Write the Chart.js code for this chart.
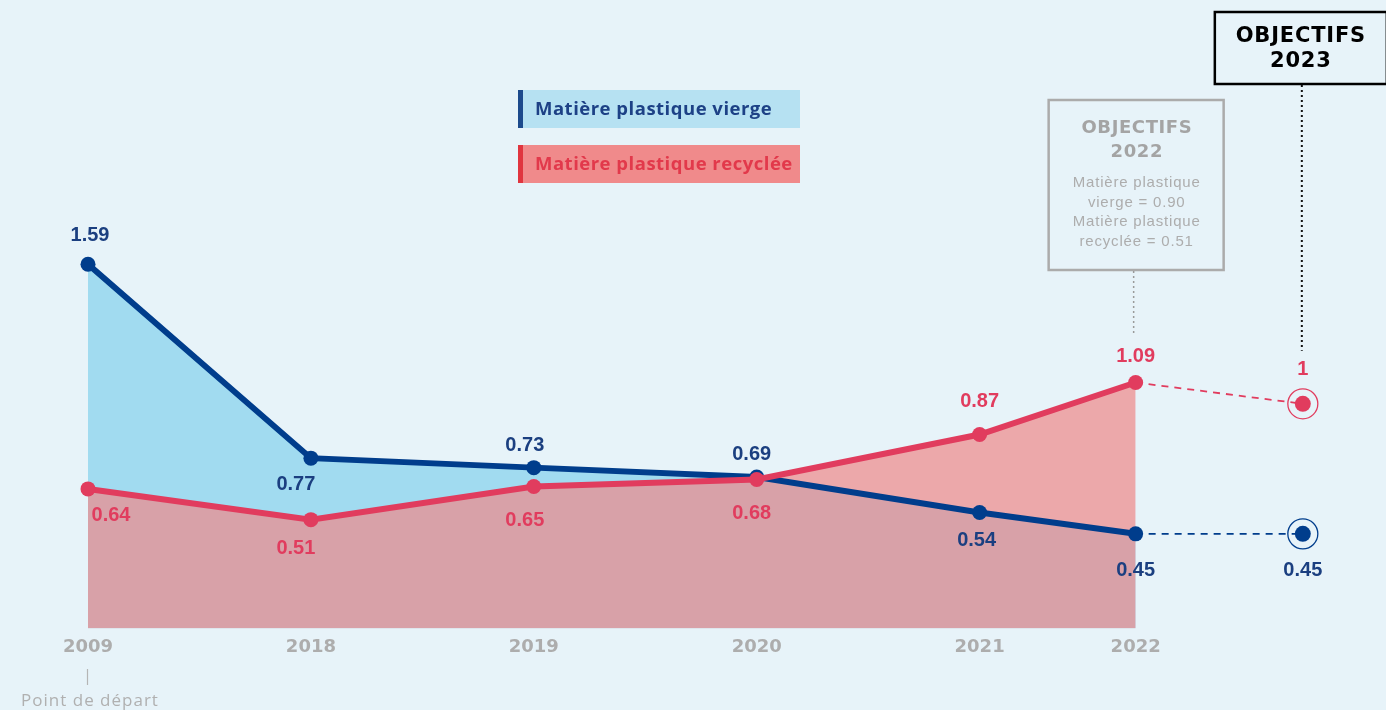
<!DOCTYPE html>
<html>
<head>
<meta charset="utf-8">
<script src="https://cdn.jsdelivr.net/npm/chart.js@4.4.1/dist/chart.umd.min.js"></script>
<style>
  html, body { margin: 0; padding: 0; background: #e7f3f9; }
  #wrap { width: 1386px; height: 710px; position: relative; }
  canvas { display: block; }
</style>
</head>
<body>
<div id="wrap"><canvas id="c" width="1386" height="710"></canvas></div>
<script>
// ---------- DATA ----------
const years = ['2009', '2018', '2019', '2020', '2021', '2022'];
const virgin = [1.59, 0.77, 0.73, 0.69, 0.54, 0.45];
const recycled = [0.64, 0.51, 0.65, 0.68, 0.87, 1.09];
const targetVirgin2023 = 0.45;
const targetRecycled2023 = 1;
const goal2022Virgin = 0.90;
const goal2022Recycled = 0.51;
const seriesNames = ['Matière plastique vierge', 'Matière plastique recyclée'];
const startNote = 'Point de départ';
const goalTitle = 'OBJECTIFS';
const goalYears = ['2022', '2023'];

// ---------- LAYOUT / STYLE ----------
const slots = [0, 1, 2, 3, 4, 4.7];   // horizontal slot of each year on the axis
const targetSlot = 5.45;
const BLUE = '#003d8c', RED = '#e13c5e';
const BLUE_TXT = '#1b3f80', RED_TXT = '#e13c5e';
const GREY = '#ababab';
const virginDx = [2, -15, -9, -5, -3, 0], virginDy = [-29, 26, -22, -23, 28, 37];
const recycledDx = [23, -15, -9, -5, 0, 0], recycledDy = [27, 29, 34, 34, -33, -26];
const VALUE_FONT = 'bold 20px "Liberation Sans", Arial, sans-serif';

const pts = (vals) => vals.map((v, i) => ({ x: slots[i], y: v }));
const fmt = (v) => String(v);

const labelsPlugin = {
  id: 'valueLabels',
  afterDatasetsDraw(chart) {
    const ctx = chart.ctx;
    ctx.save();
    ctx.font = VALUE_FONT;
    ctx.textAlign = 'center';
    ctx.textBaseline = 'middle';
    const put = (ds, idx, text, dx, dy, color) => {
      const el = chart.getDatasetMeta(ds).data[idx];
      ctx.fillStyle = color;
      ctx.fillText(text, el.x + dx, el.y + dy);
    };
    recycled.forEach((v, i) => put(0, i, fmt(v), recycledDx[i], recycledDy[i], RED_TXT));
    virgin.forEach((v, i) => put(1, i, fmt(v), virginDx[i], virginDy[i], BLUE_TXT));
    put(2, 1, fmt(targetRecycled2023), 0, -34, RED_TXT);
    put(3, 1, fmt(targetVirgin2023), 0, 37, BLUE_TXT);
    ctx.restore();
  }
};

const decoPlugin = {
  id: 'deco',
  afterDraw(chart) {
    const ctx = chart.ctx;
    const xs = chart.scales.x;
    ctx.save();

    // Legend boxes
    const lx = 518, lw = 282, lh = 38;
    const rows = [
      { y: 90, bg: '#b6e1f2', bar: '#1c4a8c', txt: '#1d4186', label: seriesNames[0] },
      { y: 145, bg: '#f08a8b', bar: '#e0353f', txt: '#e2394b', label: seriesNames[1] }
    ];
    rows.forEach(r => {
      ctx.fillStyle = r.bg;
      ctx.fillRect(lx, r.y, lw, lh);
      ctx.fillStyle = r.bar;
      ctx.fillRect(lx, r.y, 5, lh);
      ctx.fillStyle = r.txt;
      ctx.font = 'bold 18.5px "Open Sans", sans-serif';
      ctx.letterSpacing = '0.5px';
      ctx.textAlign = 'left';
      ctx.textBaseline = 'middle';
      ctx.fillText(r.label, 535, r.y + lh / 2 + 1);
      ctx.letterSpacing = '0px';
    });

    // Goal 2022 box
    const x22 = xs.getPixelForValue(slots[5]);
    const b22 = { x: x22 - 87, y: 100, w: 175, h: 170 };
    ctx.strokeStyle = GREY;
    ctx.lineWidth = 2.5;
    ctx.strokeRect(b22.x, b22.y, b22.w, b22.h);
    ctx.fillStyle = '#a4a4a4';
    ctx.textAlign = 'center';
    ctx.textBaseline = 'middle';
    ctx.font = 'bold 18px "DejaVu Sans", sans-serif';
    ctx.letterSpacing = '0.6px';
    ctx.fillText(goalTitle, x22 + 1.2, 128);
    ctx.fillText(goalYears[0], x22 + 1.2, 152);
    ctx.letterSpacing = '0.8px';
    ctx.font = '15px "Liberation Sans", Arial, sans-serif';
    ctx.fillStyle = '#adadad';
    const gl = ['Matière plastique', 'vierge = ' + goal2022Virgin.toFixed(2), 'Matière plastique', 'recyclée = ' + goal2022Recycled.toFixed(2)];
    gl.forEach((t, i) => ctx.fillText(t, x22 + 1, 183 + i * 19.5));
    ctx.letterSpacing = '0px';

    // dotted connector 2022
    const p22 = chart.getDatasetMeta(0).data[5];
    ctx.strokeStyle = '#9a9a9a';
    ctx.lineWidth = 1.5;
    ctx.setLineDash([2, 3]);
    ctx.beginPath();
    ctx.moveTo(x22 - 2, b22.y + b22.h + 1);
    ctx.lineTo(x22 - 2, p22.y + recycledDy[5] - 22);
    ctx.stroke();

    // Goal 2023 box
    const x23 = xs.getPixelForValue(targetSlot);
    const t23 = chart.getDatasetMeta(2).data[1];
    ctx.setLineDash([2, 3]);
    ctx.strokeStyle = '#111';
    ctx.lineWidth = 2;
    ctx.beginPath();
    ctx.moveTo(x23 - 1, 85);
    ctx.lineTo(x23 - 1, t23.y - 34 - 19);
    ctx.stroke();
    ctx.setLineDash([]);
    ctx.strokeStyle = '#000';
    ctx.lineWidth = 2.5;
    ctx.strokeRect(x23 - 88, 12, 172, 72);
    ctx.fillStyle = '#000';
    ctx.font = 'bold 21px "DejaVu Sans", sans-serif';
    ctx.letterSpacing = '0.8px';
    ctx.fillText(goalTitle, x23 - 2, 37);
    ctx.fillText(goalYears[1], x23 - 2, 62);
    ctx.letterSpacing = '0px';

    // Start note under the first year
    const x09 = xs.getPixelForValue(slots[0]);
    ctx.strokeStyle = '#b5b5b5';
    ctx.lineWidth = 1.2;
    ctx.beginPath();
    ctx.moveTo(x09 - 0.5, 669);
    ctx.lineTo(x09 - 0.5, 685);
    ctx.stroke();
    ctx.fillStyle = '#b0b0b0';
    ctx.font = '17px "Open Sans", sans-serif';
    ctx.letterSpacing = '1px';
    ctx.fillText(startNote, x09 + 2, 701);
    ctx.letterSpacing = '0px';

    ctx.restore();
  }
};

new Chart(document.getElementById('c'), {
  type: 'line',
  data: {
    datasets: [
      {
        label: seriesNames[1],
        data: pts(recycled),
        borderColor: RED, borderWidth: 6,
        pointRadius: 7.5, pointBackgroundColor: RED, pointBorderWidth: 0, pointHoverRadius: 7.5,
        backgroundColor: 'rgba(238,137,138,0.71)',
        fill: 'start', tension: 0, clip: false
      },
      {
        label: seriesNames[0],
        data: pts(virgin),
        borderColor: BLUE, borderWidth: 6,
        pointRadius: 7.5, pointBackgroundColor: BLUE, pointBorderWidth: 0, pointHoverRadius: 7.5,
        backgroundColor: '#a1dbf0',
        fill: 'start', tension: 0, clip: false
      },
      {
        label: 'target-r',
        data: [{ x: slots[5], y: recycled[5] }, { x: targetSlot, y: targetRecycled2023 }],
        borderColor: RED, borderWidth: 1.8, borderDash: [7, 6],
        pointRadius: [0, 8], pointBackgroundColor: RED, pointBorderWidth: 0,
        fill: false, clip: false
      },
      {
        label: 'target-v',
        data: [{ x: slots[5], y: virgin[5] }, { x: targetSlot, y: targetVirgin2023 }],
        borderColor: BLUE, borderWidth: 1.8, borderDash: [7, 6],
        pointRadius: [0, 8], pointBackgroundColor: BLUE, pointBorderWidth: 0,
        fill: false, clip: false
      },
      {
        label: 'ring-r',
        data: [{ x: targetSlot, y: targetRecycled2023 }],
        showLine: false, pointRadius: 15, pointBorderColor: RED, pointBorderWidth: 1.3,
        pointBackgroundColor: 'rgba(0,0,0,0)', fill: false, clip: false
      },
      {
        label: 'ring-v',
        data: [{ x: targetSlot, y: targetVirgin2023 }],
        showLine: false, pointRadius: 15, pointBorderColor: BLUE, pointBorderWidth: 1.3,
        pointBackgroundColor: 'rgba(0,0,0,0)', fill: false, clip: false
      }
    ]
  },
  options: {
    responsive: false,
    animation: false,
    events: [],
    layout: { padding: { left: 88, right: 8, top: 191, bottom: 44 } },
    scales: {
      x: {
        type: 'linear', min: 0, max: 5.75,
        grid: { display: false, drawTicks: false },
        border: { display: false },
        afterBuildTicks: (scale) => { scale.ticks = slots.map(v => ({ value: v })); },
        ticks: {
          autoSkip: false, maxRotation: 0, padding: 8,
          color: '#adadad',
          font: { family: '"DejaVu Sans", sans-serif', size: 18, weight: 'bold' },
          callback: (value, index) => years[index]
        }
      },
      y: { type: 'linear', min: 0.05, max: 1.9, display: false }
    },
    plugins: {
      legend: { display: false },
      tooltip: { enabled: false },
      filler: { drawTime: 'beforeDatasetsDraw' }
    }
  },
  plugins: [labelsPlugin, decoPlugin]
});
</script>
</body>
</html>
